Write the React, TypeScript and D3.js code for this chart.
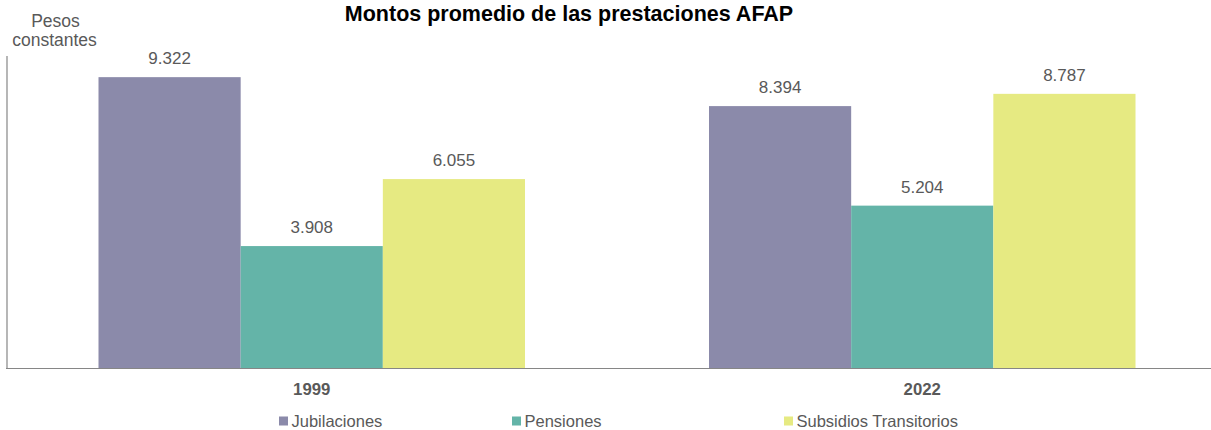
import React from "react";
import * as d3 from "d3";

const categories = ["1999", "2022"];
const seriesNames = ["Jubilaciones", "Pensiones", "Subsidios Transitorios"];
const jubilaciones = [9322, 8394];
const pensiones = [3908, 5204];
const subsidios = [6055, 8787];
const colors = ["#8B8AAA", "#64B4A8", "#E6EA82"];
const legendX = [279, 512, 784];

const W = 1211, H = 430;
const fmt = (v: number) => d3.format(",.0f")(v).replace(/,/g, ".");

export default function App() {
  const series = [jubilaciones, pensiones, subsidios];
  const x0 = d3.scaleBand().domain(categories).range([6.5, 1227.5]).paddingInner(0).paddingOuter(0);
  const inner = d3.scaleBand().domain(seriesNames).range([92, x0.bandwidth() - 92]);
  const y = d3.scaleLinear().domain([0, 10000]).range([368, 56]);
  const font = "'Liberation Sans', Arial, sans-serif";
  return (
    <svg width={W} height={H} style={{ position: "absolute", left: 0, top: 0, fontFamily: font }}>
      <rect width={W} height={H} fill="#fff" />
      <text x={569} y={21} textAnchor="middle" fontSize={21.5} fontWeight="bold" fill="#000">Montos promedio de las prestaciones AFAP</text>
      <text x={55.5} y={26.5} textAnchor="middle" fontSize={17.5} fill="#595959">Pesos</text>
      <text x={54.5} y={45.5} textAnchor="middle" fontSize={17.5} fill="#595959">constantes</text>
      {categories.map((c, ci) => (
        <g key={c} transform={`translate(${x0(c)},0)`}>
          {seriesNames.map((s, si) => {
            const v = series[si][ci];
            const bx = inner(s)!;
            return (
              <g key={s}>
                <rect x={bx} y={y(v)} width={inner.bandwidth()} height={y(0) - y(v)} fill={colors[si]} />
                <text x={bx + inner.bandwidth() / 2} y={y(v) - 13} textAnchor="middle" fontSize={17} fill="#595959">{fmt(v)}</text>
              </g>
            );
          })}
          <text x={x0.bandwidth() / 2} y={394.5} textAnchor="middle" fontSize={16.8} fontWeight="bold" fill="#595959">{c}</text>
        </g>
      ))}
      <line x1={7} x2={7} y1={y(10000)} y2={368} stroke="#868686" strokeWidth={1.2} />
      <line x1={6} x2={W} y1={368.5} y2={368.5} stroke="#868686" strokeWidth={1.2} />
      {seriesNames.map((s, i) => (
        <g key={s}>
          <rect x={legendX[i]} y={416.5} width={9} height={9} fill={colors[i]} />
          <text x={legendX[i] + 12.5} y={426.5} fontSize={16.5} fill="#595959">{s}</text>
        </g>
      ))}
    </svg>
  );
}
